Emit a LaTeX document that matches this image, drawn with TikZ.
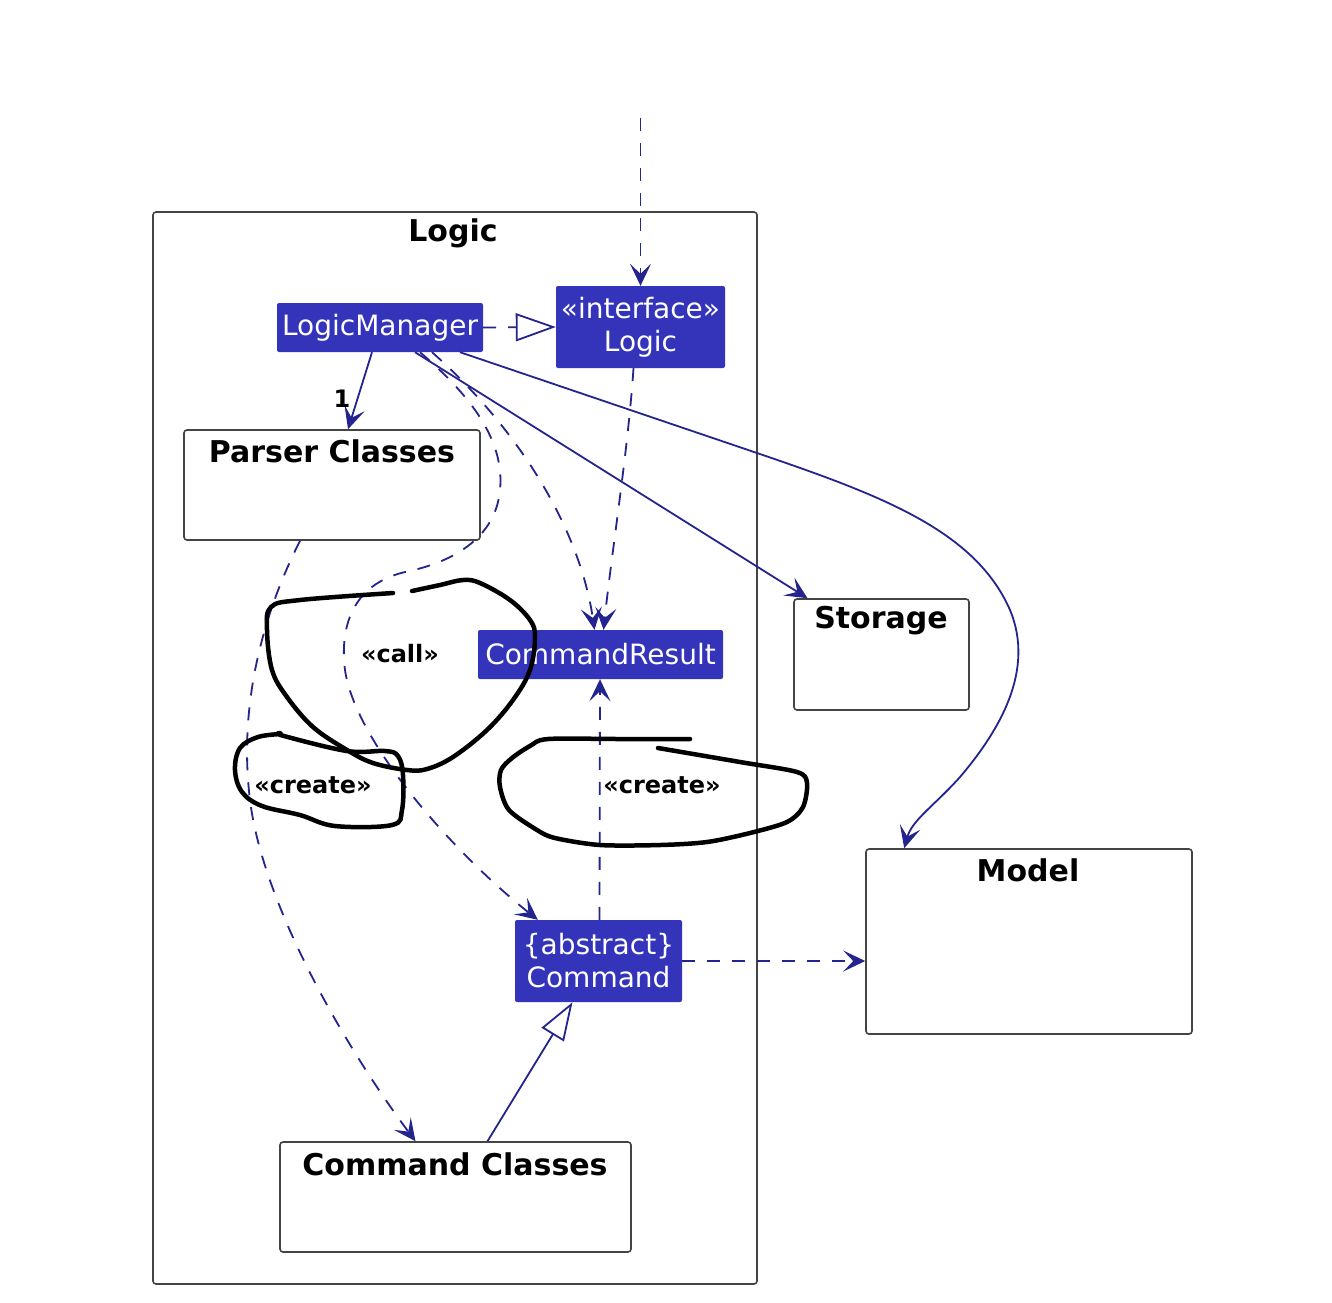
\documentclass[tikz,border=0pt]{standalone}
\usepackage{fontspec}
\setmainfont{DejaVu Sans}
\usetikzlibrary{arrows.meta}
\definecolor{nodeblue}{HTML}{3434BB}
\definecolor{linkblue}{HTML}{24248E}
\definecolor{boxgray}{HTML}{444444}
\begin{document}
\begin{tikzpicture}[x=1pt,y=-1pt,
  cls/.style={fill=nodeblue, text=white, font=\fontsize{28}{33}\selectfont, inner sep=0pt, rounded corners=2pt, align=center},
  pkgbox/.style={draw=boxgray, line width=1.6pt, rounded corners=3pt, inner sep=0pt},
  ttl/.style={font=\bfseries\fontsize{30}{36}\selectfont, inner sep=0pt},
  lbl/.style={font=\bfseries\fontsize{24}{28}\selectfont, inner sep=0pt},
  tipv/.style={-{Stealth[length=22pt,width=21pt,inset=10pt]}},
  dep/.style={draw=linkblue, line width=1.8pt, dash pattern=on 13pt off 12pt, tipv},
  assoc/.style={draw=linkblue, line width=1.8pt, tipv},
  realize/.style={draw=linkblue, line width=1.8pt, dash pattern=on 13pt off 12pt, -{Triangle[open,length=40pt,width=28pt,fill=white]}},
  gener/.style={draw=linkblue, line width=1.8pt, -{Triangle[open,length=38pt,width=26pt,fill=white]}},
  hand/.style={draw=black, line width=4.5pt, line cap=round, line join=round}]
\fill[white] (0,0) rectangle (1332,1302);
\useasboundingbox (0,0) rectangle (1332,1302);

% package and boxes
\node[pkgbox, minimum width=604pt, minimum height=1072pt] (logicpkg) at (455,748) {};
\node[ttl] (logicttl) at (453,233) {Logic};
\node[pkgbox, minimum width=296pt, minimum height=110pt] (parser) at (332,485) {};
\node[ttl] (parserttl) at (332,451) {Parser Classes};
\node[pkgbox, minimum width=175pt, minimum height=111pt] (storage) at (881.5,654.5) {};
\node[ttl] (storagettl) at (881,621) {Storage};
\node[pkgbox, minimum width=326pt, minimum height=185pt] (model) at (1029,941.5) {};
\node[ttl] (modelttl) at (1028,870) {Model};
\node[pkgbox, minimum width=351pt, minimum height=110pt] (cc) at (455.5,1197) {};
\node[ttl] (ccttl) at (455,1164) {Command Classes};

% classes
\node[cls, minimum width=206pt, minimum height=49pt] (lm) at (380,327.5) {LogicManager};
\node[cls, minimum width=169pt, minimum height=82pt] (logic) at (640.5,327) {«interface»\\Logic};
\node[cls, minimum width=245pt, minimum height=49pt] (cr) at (600.5,654.5) {CommandResult};
\node[cls, minimum width=167pt, minimum height=82pt] (cmd) at (598.5,961) {\{abstract\}\\Command};

% connectors
\coordinate (topin) at (640.5,118);
\draw[dep] (topin) -- (logic.north);
\draw[realize] (lm.east) -- (logic.west);
\draw[assoc] ([xshift=-8pt]lm.south) -- ([xshift=16pt]parser.north);
\node[lbl] (one) at (342,399) {1};
\draw[dep] ([xshift=52pt]lm.south) .. controls (520,430) and (580,530) .. ([xshift=-6pt]cr.north);
\draw[dep] ([xshift=-7pt]logic.south) .. controls (628,450) and (612,550) .. ([xshift=3pt]cr.north);
\draw[assoc] ([xshift=35pt]lm.south) -- ([xshift=-74pt]storage.north);
\draw[assoc] ([xshift=80pt]lm.south) -- (757,453) .. controls (880,495) and (975,530) .. (1010,610)
   .. controls (1035,670) and (1000,730) .. (960,777) .. controls (935,805) and (912,820) .. ([xshift=39pt]model.north west);
\draw[dep] ([xshift=40pt]lm.south) .. controls (470,395) and (505,440) .. (500,490)
   .. controls (495,545) and (440,565) .. (405,572) .. controls (350,585) and (340,630) .. (345,670)
   .. controls (355,740) and (450,850) .. ([xshift=23pt]cmd.north west);
\node[lbl] (calllbl) at (400,654) {«call»};
\draw[dep] ([xshift=-32pt]parser.south) .. controls (255,630) and (240,720) .. (250,800)
   .. controls (262,900) and (340,1040) .. ([xshift=-40pt]cc.north);
\node[lbl] (createlbl1) at (313,785) {«create»};
\draw[dep] ([xshift=1pt]cmd.north) -- ([xshift=-0.5pt]cr.south);
\node[lbl] (createlbl2) at (662,785) {«create»};
\draw[dep] (cmd.east) -- (model.west |- cmd.east);
\draw[gener] ([xshift=32pt]cc.north) -- ([xshift=-26pt]cmd.south);

% hand-drawn marks
\draw[hand] plot[smooth, tension=0.6] coordinates {(393,593) (300,600) (271,607) (267,630) (272,670) (287,697) (313,727) (347,750) (373,763) (407,770) (427,769) (453,757) (487,730) (513,700) (530,670) (535,637) (530,620) (510,600) (480,583) (463,580) (440,585) (412,591)};
\draw[hand] plot[smooth, tension=0.6] coordinates {(280,733) (284,736) (347,751) (385,751) (398,756) (403,775) (402,810) (392,825) (335,826) (300,815) (262,806) (242,792) (235,770) (240,748) (258,737) (281,734)};
\draw[hand] plot[smooth, tension=0.5] coordinates {(690,739) (620,739) (548,739) (530,746) (512,758) (501,770) (500,787) (509,810) (537,830) (555,838) (600,845) (660,845) (707,842) (750,833) (787,822) (803,807) (807,783) (797,772) (740,762) (658,748)};
\end{tikzpicture}
\end{document}
